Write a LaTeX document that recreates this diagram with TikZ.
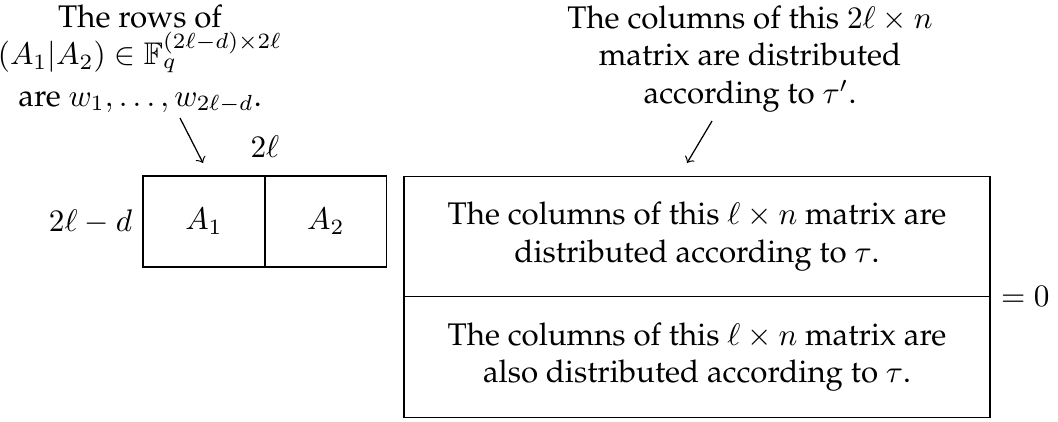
\documentclass[tikz,border=0pt]{standalone}
\usepackage[T1]{fontenc}
\renewcommand{\rmdefault}{ppl}
\usepackage{amsmath}
\usepackage{amssymb}
\usepackage{tikz}
\usetikzlibrary{positioning}

\begin{document}
\begin{tikzpicture}[
x=0.32pt, y=0.32pt,
cell/.style={rectangle,
  draw,
  outer sep=0pt,
  minimum width=39pt,
  minimum height=29.1pt,
},
bigcell/.style={rectangle,
  draw,
  outer sep=0pt,
  align=center,
  minimum width=187.5pt,
  minimum height=38.6pt,
},
note/.style={align=center},
]
\useasboundingbox (0,0) rectangle (1058,421);

\node[cell] (a1) at (204,199.5)
    {$A_1$};
\node[cell, right=0pt of a1] (a2)
    {$A_2$};
\node[left=0pt of a1] (rowlen)
    {$2\ell-d$};
\node[above=2.4pt of a1.north east] (collen)
    {$2\ell$};

\node[bigcell] (top) at (697,184.5)
    {The columns of this $\ell\times n$ matrix are\\ distributed according to $\tau$.};
\node[bigcell, below=0pt of top] (bot)
    {The columns of this $\ell\times n$ matrix are\\ also distributed according to $\tau$.};
\node[anchor=west] (zero) at (top.south east)
    {$=0$};

\node[note] (rowtxt) at (140,362)
    {The rows of\\ $(A_1|A_2)\in\mathbb{F}_q^{(2\ell-d)\times 2\ell}$\\[1.3pt] are $w_1,\dots,w_{2\ell-d}$.};
\node[note] (coltxt) at (750,362)
    {The columns of this $2\ell\times n$\\ matrix are distributed\\ according to $\tau'$.};

\coordinate (s1) at (180,303);
\coordinate (e1) at (203,258);
\coordinate (s2) at (712,300);
\coordinate (e2) at (687,258);
\draw[->] (s1) -- (e1);
\draw[->] (s2) -- (e2);
\end{tikzpicture}
\end{document}
